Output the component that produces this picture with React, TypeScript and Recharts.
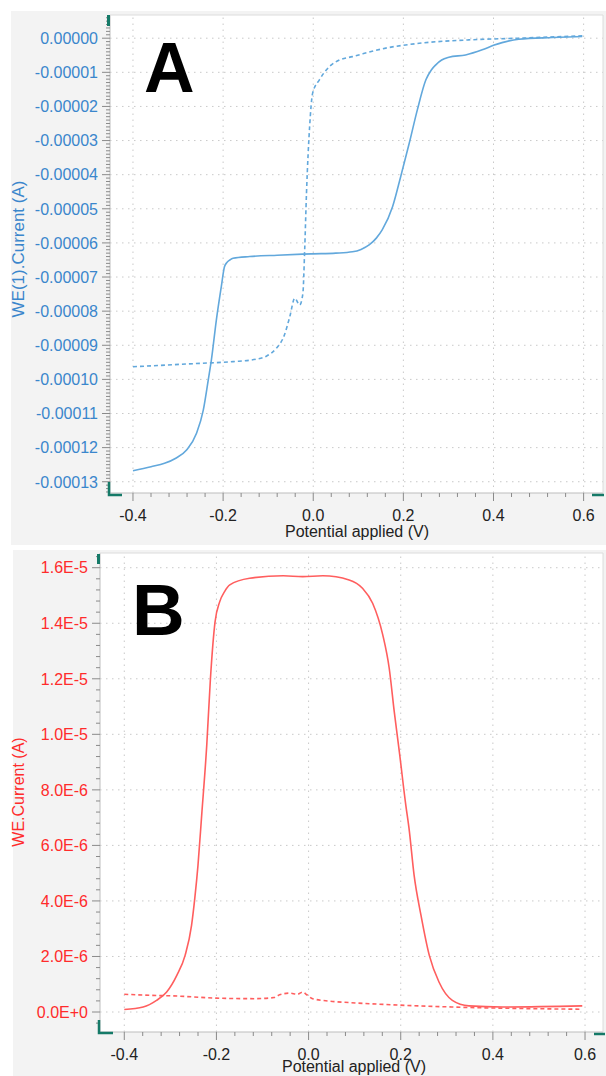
import React from 'react';
import { LineChart, Line, XAxis, YAxis, ReferenceLine, CartesianGrid } from 'recharts';

const FONT = '"Liberation Sans", Arial, Helvetica, sans-serif';

// ---------- Panel A (current in µA) ----------
const aSolidV = [-0.4, -0.36, -0.33, -0.305, -0.281, -0.259, -0.244, -0.233, -0.226, -0.215, -0.204, -0.197, -0.192, -0.185, -0.178, -0.141, -0.08, -0.0235, 0.0, 0.05, 0.087, 0.106, 0.124, 0.14, 0.153, 0.176, 0.194, 0.213, 0.231, 0.25, 0.262, 0.272, 0.285, 0.301, 0.338, 0.375, 0.4, 0.419, 0.456, 0.53, 0.597];
const aSolidI = [-126.8, -125.6, -124.6, -123.1, -120.7, -115.8, -109.0, -100.2, -94.3, -82.6, -72.8, -67.0, -65.8, -65.0, -64.5, -64.0, -63.6, -63.3, -63.2, -63.0, -62.6, -61.9, -60.6, -58.6, -56.2, -49.4, -40.6, -30.8, -21.0, -12.2, -9.3, -7.8, -6.4, -5.6, -4.9, -3.4, -2.1, -1.3, -0.3, 0.2, 0.5];
const aDashV = [-0.4, -0.326, -0.252, -0.178, -0.127, -0.104, -0.082, -0.064, -0.052, -0.041, -0.03, -0.023, -0.019, -0.015, -0.008, -0.0013, 0.0137, 0.036, 0.058, 0.087, 0.161, 0.235, 0.345, 0.456, 0.597];
const aDashI = [-96.3, -95.8, -95.3, -94.8, -94.1, -93.2, -90.9, -87.0, -81.6, -76.2, -78.2, -74.8, -62.1, -45.5, -25.9, -16.1, -12.2, -8.3, -6.4, -5.4, -2.9, -1.5, -0.5, 0.0, 0.7];

const aXMajor = [-0.4, -0.2, 0, 0.2, 0.4, 0.6];
const aXLabels = ['-0.4', '-0.2', '0.0', '0.2', '0.4', '0.6'];
const aXMinor = [-0.36, -0.32, -0.28, -0.24, -0.16, -0.12, -0.08, -0.04, 0.04, 0.08, 0.12, 0.16, 0.24, 0.28, 0.32, 0.36, 0.44, 0.48, 0.52, 0.56];
const aYMajor = [0, -10, -20, -30, -40, -50, -60, -70, -80, -90, -100, -110, -120, -130];
const aYLabels = ['0.00000', '-0.00001', '-0.00002', '-0.00003', '-0.00004', '-0.00005', '-0.00006', '-0.00007', '-0.00008', '-0.00009', '-0.00010', '-0.00011', '-0.00012', '-0.00013'];
const aYMinor = Array.from({ length: 140 }, (_, k) => 6 - k).filter((v) => v % 10 !== 0);

// ---------- Panel B (current in µA) ----------
const bSolidV = [-0.4, -0.359, -0.33, -0.308, -0.286, -0.268, -0.254, -0.247, -0.24, -0.232, -0.221, -0.213, -0.203, -0.193, -0.182, -0.171, -0.128, -0.055, -0.013, 0.031, 0.088, 0.117, 0.139, 0.161, 0.175, 0.186, 0.197, 0.211, 0.218, 0.229, 0.244, 0.262, 0.283, 0.312, 0.348, 0.421, 0.594];
const bSolidI = [0.09, 0.18, 0.42, 0.72, 1.32, 2.04, 3.12, 4.09, 5.29, 7.09, 9.61, 12.01, 14.05, 14.77, 15.15, 15.38, 15.62, 15.71, 15.68, 15.71, 15.56, 15.26, 14.72, 13.58, 12.38, 10.81, 9.37, 7.45, 6.61, 4.93, 3.48, 2.04, 1.08, 0.42, 0.22, 0.18, 0.22];
const bDashV = [-0.4, -0.344, -0.294, -0.2, -0.117, -0.075, -0.063, -0.041, -0.024, -0.013, -0.004, 0.009, 0.046, 0.089, 0.168, 0.312, 0.594];
const bDashI = [0.64, 0.6, 0.58, 0.5, 0.48, 0.52, 0.62, 0.68, 0.64, 0.72, 0.62, 0.48, 0.39, 0.34, 0.27, 0.18, 0.1];

const bXMajor = [-0.4, -0.2, 0, 0.2, 0.4, 0.6];
const bXLabels = ['-0.4', '-0.2', '0.0', '0.2', '0.4', '0.6'];
const bXMinor = aXMinor;
const bYMajor = [0, 2, 4, 6, 8, 10, 12, 14, 16];
const bYLabels = ['0.0E+0', '2.0E-6', '4.0E-6', '6.0E-6', '8.0E-6', '1.0E-5', '1.2E-5', '1.4E-5', '1.6E-5'];
const bYMinor = Array.from({ length: 43 }, (_, k) => Math.round((-0.4 + k * 0.4) * 10) / 10).filter((v) => Math.abs(v / 2 - Math.round(v / 2)) > 1e-6);

const toPts = (v: number[], i: number[]) => v.map((x, k) => ({ v: x, i: i[k] }));
const aSolid = toPts(aSolidV, aSolidI);
const aDash = toPts(aDashV, aDashI);
const bSolid = toPts(bSolidV, bSolidI);
const bDash = toPts(bDashV, bDashI);

const findIdx = (arr: number[], v: number) => arr.findIndex((m) => Math.abs(m - v) < 1e-6);

const makeXTick = (major: number[], labels: string[], dy: number) => (props: any) => {
  const { x, y, payload } = props;
  const idx = findIdx(major, payload.value);
  const isMajor = idx >= 0;
  return (
    <g>
      <line x1={x} x2={x} y1={y} y2={y + (isMajor ? 8 : 4)} stroke="#8a8a8a" strokeWidth={1} />
      {isMajor && (
        <text x={x} y={y + dy} textAnchor="middle" fill="#222" fontSize={16} fontFamily={FONT}>
          {labels[idx]}
        </text>
      )}
    </g>
  );
};

const makeYTick = (major: number[], labels: string[], color: string) => (props: any) => {
  const { x, y, payload } = props;
  const idx = findIdx(major, payload.value);
  const isMajor = idx >= 0;
  return (
    <g>
      <line x1={x - (isMajor ? 8 : 4)} x2={x} y1={y} y2={y} stroke="#8a8a8a" strokeWidth={1} />
      {isMajor && (
        <text x={x - 12} y={y} dy="0.36em" textAnchor="end" fill={color} fontSize={16} fontFamily={FONT}>
          {labels[idx]}
        </text>
      )}
    </g>
  );
};

const GRID = '#c9c9c9';
const BLUE_TXT = '#3a86cc';
const BLUE_LINE = '#62a8dc';
const RED_TXT = '#ff2b2b';
const RED_LINE = '#ff5e5e';
const TEAL = '#157a68';

export default function App() {
  return (
    <div style={{ position: 'absolute', left: 0, top: 0, width: 606, height: 1076, background: '#fff', overflow: 'hidden', fontFamily: FONT }}>
      {/* Panel A */}
      <div style={{ position: 'absolute', left: 11, top: 11, width: 595, height: 534, background: '#f3f3f3' }}>
        <LineChart width={595} height={534} margin={{ top: 4, right: 3, bottom: 0, left: 0 }}>
          <CartesianGrid fill="#fff" horizontal={false} vertical={false} />
          <XAxis
            type="number"
            dataKey="v"
            domain={[-0.451, 0.643]}
            allowDataOverflow
            ticks={[...aXMajor, ...aXMinor]}
            interval={0}
            tickSize={0}
            tickMargin={0}
            tickLine={false}
            axisLine={{ stroke: '#bdbdbd' }}
            tick={makeXTick(aXMajor, aXLabels, 28)}
            height={52}
          />
          <YAxis
            type="number"
            dataKey="i"
            domain={[-133.3, 6.8]}
            allowDataOverflow
            ticks={[...aYMajor, ...aYMinor]}
            interval={0}
            tickSize={0}
            tickMargin={0}
            tickLine={false}
            axisLine={{ stroke: '#bdbdbd' }}
            tick={makeYTick(aYMajor, aYLabels, BLUE_TXT)}
            width={99}
          />
          {aXMajor.map((v) => (
            <ReferenceLine key={'ax' + v} x={v} stroke={GRID} strokeDasharray="1.5 4.5" />
          ))}
          {aYMajor.map((v) => (
            <ReferenceLine key={'ay' + v} y={v} stroke={GRID} strokeDasharray="1.5 4.5" />
          ))}
          <Line data={aSolid} dataKey="i" type="monotone" stroke={BLUE_LINE} strokeWidth={1.6} dot={false} isAnimationActive={false} />
          <Line data={aDash} dataKey="i" type="monotone" stroke={BLUE_LINE} strokeWidth={1.6} strokeDasharray="4 3" dot={false} isAnimationActive={false} />
        </LineChart>
      </div>

      {/* Panel B */}
      <div style={{ position: 'absolute', left: 13, top: 550, width: 593, height: 526, background: '#f3f3f3' }}>
        <LineChart width={593} height={526} margin={{ top: 3, right: 3, bottom: 0, left: 0 }}>
          <CartesianGrid fill="#fff" horizontal={false} vertical={false} />
          <XAxis
            type="number"
            dataKey="v"
            domain={[-0.4527, 0.639]}
            allowDataOverflow
            ticks={[...bXMajor, ...bXMinor]}
            interval={0}
            tickSize={0}
            tickMargin={0}
            tickLine={false}
            axisLine={{ stroke: '#bdbdbd' }}
            tick={makeXTick(bXMajor, bXLabels, 28)}
            height={44}
          />
          <YAxis
            type="number"
            dataKey="i"
            domain={[-0.72, 16.53]}
            allowDataOverflow
            ticks={[...bYMajor, ...bYMinor]}
            interval={0}
            tickSize={0}
            tickMargin={0}
            tickLine={false}
            axisLine={{ stroke: '#bdbdbd' }}
            tick={makeYTick(bYMajor, bYLabels, RED_TXT)}
            width={87}
          />
          {bXMajor.map((v) => (
            <ReferenceLine key={'bx' + v} x={v} stroke={GRID} strokeDasharray="1.5 4.5" />
          ))}
          {bYMajor.map((v) => (
            <ReferenceLine key={'by' + v} y={v} stroke={GRID} strokeDasharray="1.5 4.5" />
          ))}
          <Line data={bSolid} dataKey="i" type="monotone" stroke={RED_LINE} strokeWidth={1.6} dot={false} isAnimationActive={false} />
          <Line data={bDash} dataKey="i" type="monotone" stroke={RED_LINE} strokeWidth={1.6} strokeDasharray="4 3" dot={false} isAnimationActive={false} />
        </LineChart>
      </div>

      {/* Decorations & labels */}
      <svg width={606} height={1076} style={{ position: 'absolute', left: 0, top: 0, pointerEvents: 'none' }}>
        <line x1={110} x2={603} y1={15} y2={15} stroke="#dcdcdc" />
        <line x1={603} x2={603} y1={15} y2={493} stroke="#dcdcdc" />
        <line x1={100} x2={603} y1={553} y2={553} stroke="#dcdcdc" />
        <line x1={603} x2={603} y1={553} y2={1032} stroke="#dcdcdc" />

        <text x={144} y={92} fontSize={70} fontWeight="bold" fontFamily={FONT} fill="#000">A</text>
        <text x={132} y={635} fontSize={73} fontWeight="bold" fontFamily={FONT} fill="#000">B</text>

        <text x={357} y={537} textAnchor="middle" fontSize={16} fontFamily={FONT} fill="#222">Potential applied (V)</text>
        <text x={354} y={1072} textAnchor="middle" fontSize={16} fontFamily={FONT} fill="#222">Potential applied (V)</text>

        <text transform="translate(24,249) rotate(-90)" textAnchor="middle" fontSize={17} fontFamily={FONT} fill={BLUE_TXT}>WE(1).Current (A)</text>
        <text transform="translate(24,792) rotate(-90)" textAnchor="middle" fontSize={16} fontFamily={FONT} fill={RED_TXT}>WE.Current (A)</text>

        <rect x={107} y={15} width={3} height={11} fill={TEAL} />
        <path d="M109 482 V495 H122" stroke={TEAL} strokeWidth={2.5} fill="none" />
        <line x1={592} x2={604} y1={495} y2={495} stroke={TEAL} strokeWidth={2.5} />
        <rect x={97} y={554} width={3} height={10} fill={TEAL} />
        <path d="M99 1020 V1033 H113" stroke={TEAL} strokeWidth={2.5} fill="none" />
        <line x1={594} x2={605} y1={1034} y2={1034} stroke={TEAL} strokeWidth={2.5} />
      </svg>
    </div>
  );
}
